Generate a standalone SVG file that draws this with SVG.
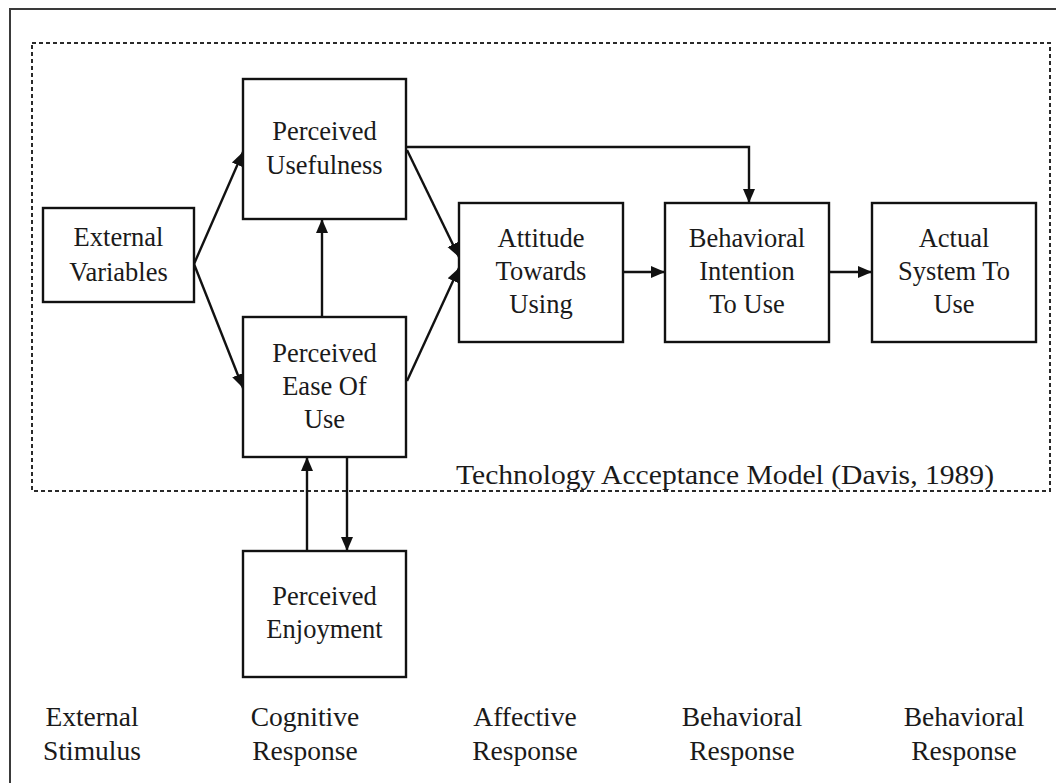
<svg xmlns="http://www.w3.org/2000/svg" width="1056" height="783" viewBox="0 0 1056 783">
<style>
.box{fill:#fff;stroke:#111;stroke-width:2.4}
.t{font-family:"Liberation Serif","Times New Roman",serif;font-size:26.5px;fill:#1a1a1a;text-anchor:middle}
.b{font-family:"Liberation Serif","Times New Roman",serif;font-size:27.5px;fill:#1a1a1a;text-anchor:middle}
.c{fill:none;stroke:#111;stroke-width:2.4}
</style>
<defs>
<marker id="ah" markerUnits="userSpaceOnUse" markerWidth="16" markerHeight="14" refX="14" refY="7" orient="auto">
<path d="M0,1 L14,7 L0,13 Z" fill="#111"/>
</marker>
</defs>
<rect x="0" y="0" width="1056" height="783" fill="#fff"/>
<rect x="10" y="9" width="1070" height="800" fill="none" stroke="#3a3a3a" stroke-width="2"/>
<rect x="32" y="43" width="1018" height="448" fill="none" stroke="#2a2a2a" stroke-width="2" stroke-dasharray="4,3"/>

<g id="connectors">
<path class="c" d="M194,264 L243,152" marker-end="url(#ah)"/>
<path class="c" d="M194,264 L243,388" marker-end="url(#ah)"/>
<path class="c" d="M322,317 L322,219" marker-end="url(#ah)"/>
<path class="c" d="M407,150 L459,257" marker-end="url(#ah)"/>
<path class="c" d="M407,381 L459,268" marker-end="url(#ah)"/>
<path class="c" d="M407,147 L749,147 L749,203" marker-end="url(#ah)"/>
<path class="c" d="M623,272 L665,272" marker-end="url(#ah)"/>
<path class="c" d="M829,272 L872,272" marker-end="url(#ah)"/>
<path class="c" d="M307,551 L307,457" marker-end="url(#ah)"/>
<path class="c" d="M347,457 L347,551" marker-end="url(#ah)"/>
</g>

<g id="external-variables">
<rect class="box" x="43" y="208" width="151" height="94"/>
<text class="t" x="118.5" y="246">External</text>
<text class="t" x="118.5" y="281">Variables</text>
</g>
<g id="perceived-usefulness">
<rect class="box" x="243" y="79" width="163" height="140"/>
<text class="t" x="324.5" y="140">Perceived</text>
<text class="t" x="324.5" y="174">Usefulness</text>
</g>
<g id="perceived-ease-of-use">
<rect class="box" x="243" y="317" width="163" height="140"/>
<text class="t" x="324.5" y="362">Perceived</text>
<text class="t" x="324.5" y="395">Ease Of</text>
<text class="t" x="324.5" y="428">Use</text>
</g>
<g id="attitude">
<rect class="box" x="459" y="203" width="164" height="139"/>
<text class="t" x="541" y="247">Attitude</text>
<text class="t" x="541" y="280">Towards</text>
<text class="t" x="541" y="313">Using</text>
</g>
<g id="behavioral-intention">
<rect class="box" x="665" y="203" width="164" height="139"/>
<text class="t" x="747" y="247">Behavioral</text>
<text class="t" x="747" y="280">Intention</text>
<text class="t" x="747" y="313">To Use</text>
</g>
<g id="actual-system">
<rect class="box" x="872" y="203" width="164" height="139"/>
<text class="t" x="954" y="247">Actual</text>
<text class="t" x="954" y="280">System To</text>
<text class="t" x="954" y="313">Use</text>
</g>
<g id="perceived-enjoyment">
<rect class="box" x="243" y="551" width="163" height="126"/>
<text class="t" x="324.5" y="605">Perceived</text>
<text class="t" x="324.5" y="638">Enjoyment</text>
</g>

<g id="labels">
<text x="456" y="484" font-family="Liberation Serif, serif" font-size="27" fill="#1a1a1a" textLength="538" lengthAdjust="spacingAndGlyphs">Technology Acceptance Model (Davis, 1989)</text>
<text class="b" x="92" y="726">External</text>
<text class="b" x="92" y="760">Stimulus</text>
<text class="b" x="305" y="726">Cognitive</text>
<text class="b" x="305" y="760">Response</text>
<text class="b" x="525" y="726">Affective</text>
<text class="b" x="525" y="760">Response</text>
<text class="b" x="742" y="726">Behavioral</text>
<text class="b" x="742" y="760">Response</text>
<text class="b" x="964" y="726">Behavioral</text>
<text class="b" x="964" y="760">Response</text>
</g>
</svg>
